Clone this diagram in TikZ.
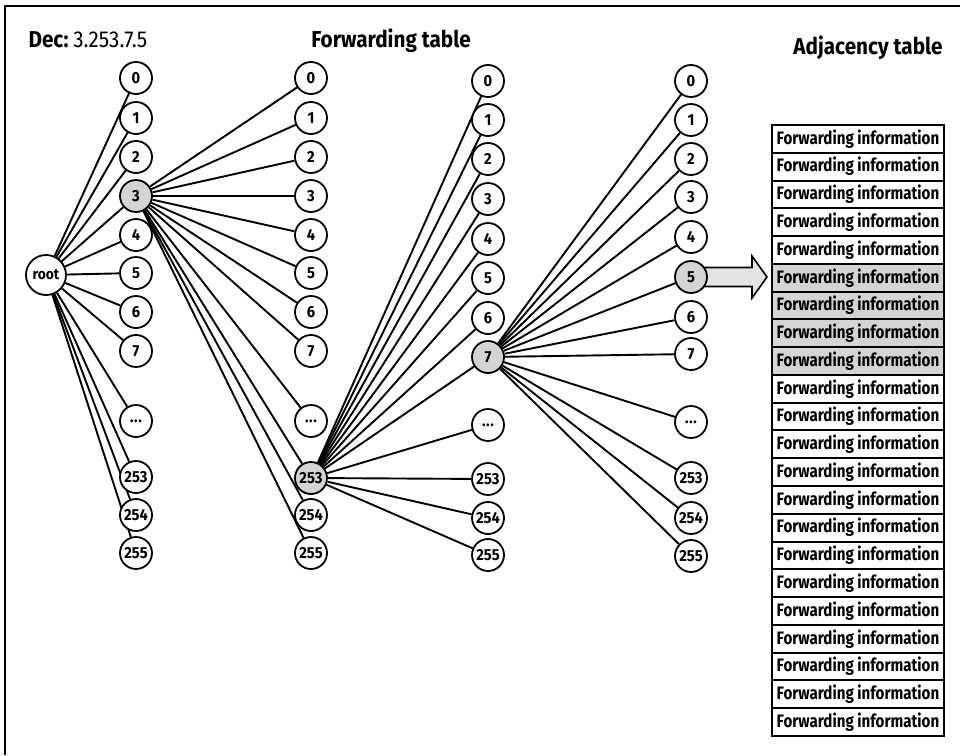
\documentclass[tikz,border=0pt]{standalone}
\usepackage{fontspec}
\setmainfont{Fira Sans}
\newfontfamily\ftitle[FakeStretch=0.9]{Fira Sans}
\newfontfamily\frow[FakeStretch=0.84]{Fira Sans}
\newfontfamily\fnum[FakeStretch=0.92]{Fira Sans}
\usetikzlibrary{backgrounds,calc}
\definecolor{nodegray}{RGB}{212,212,212}
\definecolor{arrowgray}{RGB}{228,228,228}
\newcommand{\elp}{.\kern0.5pt.\kern0.5pt.}
\begin{document}
\begin{tikzpicture}[x=1pt,y=-1pt,
  num/.style={circle,draw,line width=1.8pt,fill=white,minimum size=32pt,inner sep=0pt,
    font=\fnum\fontsize{16}{16}\selectfont\bfseries},
  hl/.style={fill=nodegray},
  plain/.style={},
  edge/.style={line width=1.9pt},
  rowbox/.style={draw,line width=2pt,fill=white,minimum width=172pt,minimum height=27.77pt,
    inner sep=0pt,font=\frow\fontsize{18}{18}\selectfont\bfseries},
  title/.style={font=\ftitle\fontsize{23}{23}\selectfont\bfseries,anchor=base}]
\useasboundingbox (0,0) rectangle (960,755);
\draw[line width=2pt] (5,755) -- (5,6) -- (960,6);

% titles
\node[title,anchor=base west] (dec) at (25,47) {Dec:~{\mdseries 3.253.7.5}};
\node[title] (fwd) at (391,47) {Forwarding table};
\node[title] (adj) at (868,54) {Adjacency table};

% root
\node[num,minimum size=40pt,font=\fnum\fontsize{15}{15}\selectfont\bfseries] (root) at (46,275) {root};

% column 1
\foreach \i/\lab/\y/\s in {0/0/78/plain,1/1/118/plain,2/2/157/plain,3/3/196/hl,4/4/235/plain,
  5/5/273/plain,6/6/312/plain,7/7/351/plain,8/\elp/421/plain,9/253/477/plain,10/254/515/plain,11/255/553/plain}
  \node[num,\s] (a\i) at (136,\y) {\lab};
% column 2
\foreach \i/\lab/\y/\s in {0/0/78/plain,1/1/118/plain,2/2/157/plain,3/3/196/plain,4/4/235/plain,
  5/5/273/plain,6/6/312/plain,7/7/351/plain,8/\elp/421/plain,9/253/478/hl,10/254/515/plain,11/255/553/plain}
  \node[num,\s] (b\i) at (311,\y) {\lab};
% column 3
\foreach \i/\lab/\y/\s in {0/0/81/plain,1/1/120/plain,2/2/159/plain,3/3/199/plain,4/4/239/plain,
  5/5/278/plain,6/6/318/plain,7/7/357/hl,8/\elp/425/plain,9/253/479/plain,10/254/518/plain,11/255/555/plain}
  \node[num,\s] (c\i) at (488,\y) {\lab};
% column 4
\foreach \i/\lab/\y/\s in {0/0/81/plain,1/1/120/plain,2/2/159/plain,3/3/197/plain,4/4/237/plain,
  5/5/277/hl,6/6/317/plain,7/7/354/plain,8/\elp/422/plain,9/253/478/plain,10/254/518/plain,11/255/556/plain}
  \node[num,\s] (d\i) at (691,\y) {\lab};

% adjacency table
\foreach \i in {1,...,22} {
  \pgfmathsetmacro{\yy}{125+(\i-0.5)*27.77}
  \ifnum\i>5 \ifnum\i<10
    \node[rowbox,fill=nodegray] (t\i) at (858,\yy) {Forwarding information};
  \else
    \node[rowbox] (t\i) at (858,\yy) {Forwarding information};
  \fi\else
    \node[rowbox] (t\i) at (858,\yy) {Forwarding information};
  \fi
}

\begin{scope}[on background layer]
  \foreach \i in {0,...,11} {
    \draw[edge] (root) -- (a\i);
    \draw[edge] (a3) -- (b\i);
    \draw[edge] (b9) -- (c\i);
    \draw[edge] (c7) -- (d\i);
  }
  \coordinate (ae) at ($(t6.west)+(-4,0)$);
  \filldraw[fill=arrowgray,line width=1.6pt] let \p1=(d5.center), \p2=(ae) in
    (\x1,\y1+9.5pt) -- (\x2-15pt,\y1+9.5pt) -- (\x2-15pt,\y1+21pt) -- (\x2,\y1)
    -- (\x2-15pt,\y1-21pt) -- (\x2-15pt,\y1-9.5pt) -- (\x1,\y1-9.5pt) -- cycle;
\end{scope}
\end{tikzpicture}
\end{document}
